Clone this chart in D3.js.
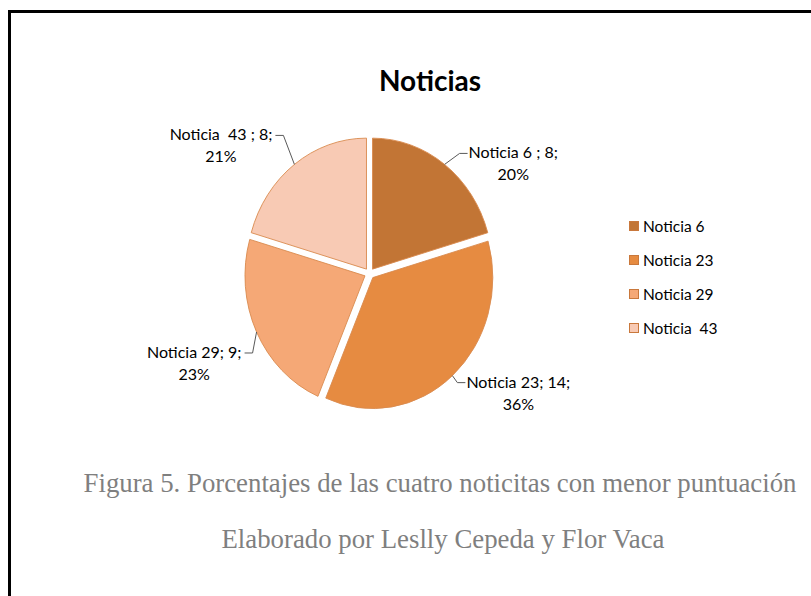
<!DOCTYPE html>
<html>
<head>
<meta charset="utf-8">
<script src="https://cdn.jsdelivr.net/npm/d3@7"></script>
<style>
  html,body{margin:0;padding:0;background:#fff;}
  svg{display:block;}
  text{white-space:pre;}
</style>
</head>
<body>
<svg id="chart" width="811" height="596"></svg>
<script>
// data
const categories=["Noticia 6","Noticia 23","Noticia 29","Noticia  43"];
const values=[8,14,9,8];
const percents=["20%","36%","23%","21%"];
const labelHeads=["Noticia 6 ; 8;","Noticia 23; 14;","Noticia 29; 9;","Noticia  43 ; 8;"];
const colors=["#c27535","#e68b41","#f5a876","#f8cab4"];

// label nudges (layout only): elbow offset from the slice edge
const nudge=[[15,-11],[5,7],[-4,21],[-11,-29]];

const svg=d3.select("#chart");
const W=811,H=596;
const cx=369.5,cy=273.5,rx=120,ry=131,explode=5;

// frame
svg.append("rect")
  .attr("x",9.5).attr("y",11.5)
  .attr("width",W+20).attr("height",H+20)
  .attr("fill","none").attr("stroke","#000").attr("stroke-width",3);

// title
svg.append("text")
  .attr("x",430).attr("y",91)
  .attr("text-anchor","middle")
  .attr("font-family","Lato, sans-serif")
  .attr("font-weight","bold")
  .attr("font-size",28)
  .attr("fill","#000")
  .text("Noticias");

const pie=d3.pie().sort(null).value(d=>d)(values);
const arc=d3.arc().innerRadius(0).outerRadius(rx);
const sy=ry/rx;

const g=svg.append("g").attr("transform",`translate(${cx},${cy}) scale(1,${sy})`);
g.selectAll("path")
  .data(pie)
  .join("path")
  .attr("transform",d=>{
    const a=(d.startAngle+d.endAngle)/2;
    return `translate(${explode*Math.sin(a)},${-explode*Math.cos(a)})`;
  })
  .attr("d",arc)
  .attr("fill",(d,i)=>colors[i])
  .attr("stroke","#d98a4e")
  .attr("stroke-width",0.9)
  .attr("vector-effect","non-scaling-stroke");

// data labels with leader lines
const lab=svg.append("g")
  .attr("font-family","Lato, sans-serif")
  .attr("font-size",16)
  .attr("fill","#000");

pie.forEach((d,i)=>{
  const a=(d.startAngle+d.endAngle)/2;
  const s=Math.sin(a),c=Math.cos(a);
  const px=cx+(rx+explode)*s, py=cy-(ry+explode*sy)*c;
  const ex=px+nudge[i][0], ey=py+nudge[i][1];
  const right=s>0;
  const hx=ex+(right?8:-8);
  lab.append("path")
    .attr("d",`M${px},${py}L${ex},${ey}L${hx},${ey}`)
    .attr("fill","none").attr("stroke","#595959").attr("stroke-width",1);
  const t1=lab.append("text")
    .attr("x",hx+(right?1:-3)).attr("y",ey+5)
    .attr("text-anchor",right?"start":"end")
    .text(labelHeads[i]);
  const w=t1.node().getComputedTextLength();
  const mid=right?hx+1+w/2:hx-3-w/2;
  lab.append("text")
    .attr("x",mid).attr("y",ey+27)
    .attr("text-anchor","middle")
    .text(percents[i]);
});

// legend
const leg=svg.append("g")
  .attr("font-family","Lato, sans-serif")
  .attr("font-size",15.5);
const ly=d3.scalePoint().domain(categories).range([226,328]);
categories.forEach((k,i)=>{
  leg.append("rect")
    .attr("x",629.5).attr("y",ly(k)-4.5)
    .attr("width",9).attr("height",9)
    .attr("fill",colors[i]).attr("stroke","#c9783c").attr("stroke-width",1);
  leg.append("text")
    .attr("x",643).attr("y",ly(k)+5.5)
    .text(k);
});

// caption
const cap=svg.append("g")
  .attr("font-family","'Liberation Serif', 'Times New Roman', serif")
  .attr("font-size",26.8)
  .attr("fill","#7f7f7f")
  .attr("text-anchor","middle");
cap.append("text").attr("x",440).attr("y",492)
  .text("Figura 5. Porcentajes de las cuatro noticitas con menor puntuación");
cap.append("text").attr("x",443).attr("y",548)
  .text("Elaborado por Leslly Cepeda y Flor Vaca");
</script>
</body>
</html>
